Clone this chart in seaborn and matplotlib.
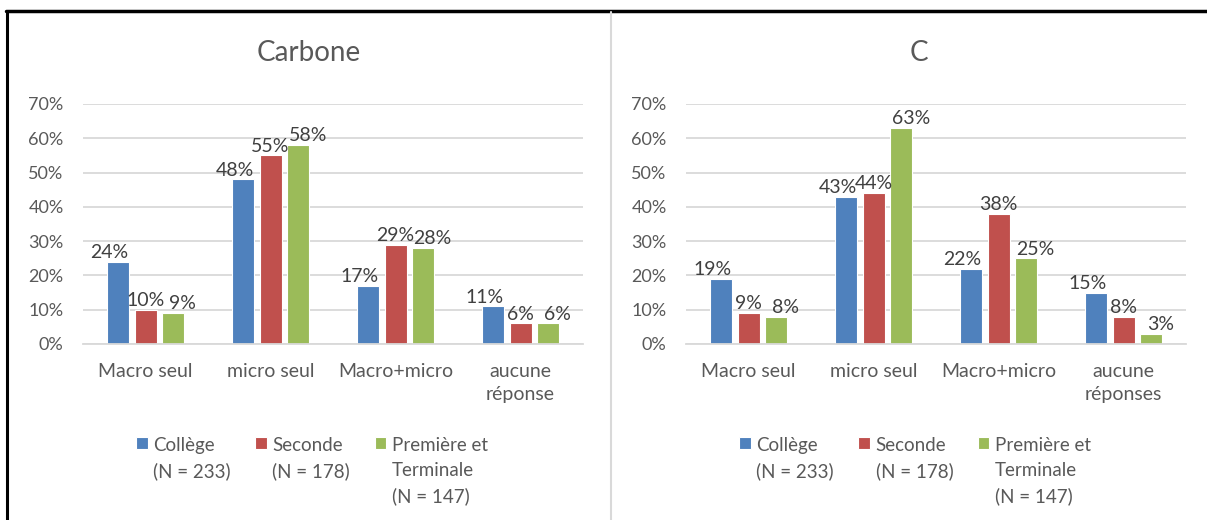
import pandas as pd
import matplotlib.pyplot as plt
import seaborn as sns
from matplotlib.lines import Line2D

sns.set_theme(style="white")
plt.rcParams['font.family'] = ['Lato', 'DejaVu Sans']

# Données (pourcentages)
niveaux = ["Collège\n(N = 233)", "Seconde\n(N = 178)", "Première et\nTerminale\n(N = 147)"]
couleurs = ["#4F81BD", "#C0504D", "#9BBB59"]

cat_carbone = ["Macro seul", "micro seul", "Macro+micro", "aucune\nréponse"]
carbone_college = [24, 48, 17, 11]
carbone_seconde = [10, 55, 29, 6]
carbone_premiere = [9, 58, 28, 6]

cat_c = ["Macro seul", "micro seul", "Macro+micro", "aucune\nréponses"]
c_college = [19, 43, 22, 15]
c_seconde = [9, 44, 38, 8]
c_premiere = [8, 63, 25, 3]

GRIS = "#595959"
GRILLE = "#D9D9D9"
W, H = 1207, 520
# décalage horizontal des étiquettes (comme Excel, pour éviter les chevauchements)
decalage = [-6, 0, 7]


def to_long(cats, series):
    rows = []
    for niv, vals in zip(niveaux, series):
        for cat, v in zip(cats, vals):
            rows.append({"cat": cat, "val": v, "niveau": niv})
    return pd.DataFrame(rows)


panels = [
    ("Carbone", to_long(cat_carbone, [carbone_college, carbone_seconde, carbone_premiere]), 83, 309),
    ("C", to_long(cat_c, [c_college, c_seconde, c_premiere]), 686, 919),
]

fig = plt.figure(figsize=(W / 100, H / 100), dpi=100)

for titre, df, x0, xt in panels:
    ax = fig.add_axes([x0 / W, 176 / H, 500 / W, 240 / H])
    sns.barplot(data=df, x="cat", y="val", hue="niveau", palette=couleurs,
                saturation=1, width=0.66, gap=0.2, edgecolor="white",
                linewidth=0.8, ax=ax)
    for i, cont in enumerate(ax.containers):
        for bar, v in zip(cont.patches, cont.datavalues):
            ax.annotate(f"{v:.0f}%", (bar.get_x() + bar.get_width() / 2, v),
                        xytext=(decalage[i], 0.5), textcoords="offset points",
                        ha="center", va="bottom", fontsize=14, color="#404040")

    ax.set_ylim(0, 70)
    ax.set_yticks(range(0, 71, 10))
    ax.yaxis.set_major_formatter(lambda v, p: f"{v:.0f}%")
    ax.set_xlabel("")
    ax.set_ylabel("")
    ax.grid(axis="y", color=GRILLE, lw=1.3)
    ax.set_axisbelow(True)
    for s in ["left", "right", "top"]:
        ax.spines[s].set_visible(False)
    ax.spines["bottom"].set_color(GRILLE)
    ax.spines["bottom"].set_linewidth(1.3)
    ax.tick_params(axis="y", length=0, pad=14, labelsize=13, labelcolor=GRIS)
    ax.tick_params(axis="x", length=0, pad=14, labelsize=14, labelcolor=GRIS)
    for t in ax.get_xticklabels():
        t.set_linespacing(1.4)

    fig.text(xt / W, 1 - 53 / H, titre, ha="center", va="center",
             fontsize=20, color=GRIS)

    sns.move_legend(ax, "upper left", bbox_to_anchor=((x0 + 53) / W, 1 - 437 / H),
                    bbox_transform=fig.transFigure, ncol=3, title=None,
                    frameon=False, borderpad=0, borderaxespad=0,
                    handlelength=0.62, handleheight=0.62, handletextpad=0.3,
                    columnspacing=1.3, fontsize=13.5, labelcolor=GRIS)
    leg = ax.get_legend()
    for t in leg.get_texts():
        t.set_linespacing(1.55)
    # aligner carrés et colonnes sur la première ligne
    leg._legend_handle_box.align = "top"
    for col in leg._legend_handle_box.get_children():
        for item in col.get_children():
            item.align = "top"

# Cadres
fig.add_artist(Line2D([6 / W, 1], [1 - 11 / H] * 2, color="black", lw=2.5,
                      transform=fig.transFigure))
fig.add_artist(Line2D([7 / W] * 2, [0, 1 - 11 / H], color="black", lw=2.2,
                      transform=fig.transFigure))
fig.add_artist(Line2D([611 / W] * 2, [0, 1 - 12 / H], color=GRILLE, lw=1.5,
                      transform=fig.transFigure))

fig.savefig("out.png", dpi=100)
